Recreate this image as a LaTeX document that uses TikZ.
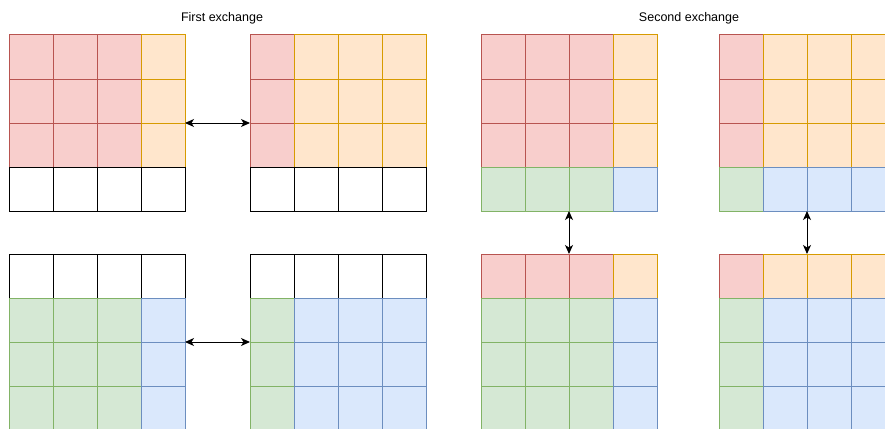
\documentclass[tikz,border=0pt]{standalone}
\usepackage{fontspec}
\setmainfont{Liberation Sans}
\usetikzlibrary{arrows.meta}

\definecolor{redfill}{HTML}{F8CECC}\definecolor{redline}{HTML}{B85450}
\definecolor{orgfill}{HTML}{FFE6CC}\definecolor{orgline}{HTML}{D79B00}
\definecolor{grnfill}{HTML}{D5E8D4}\definecolor{grnline}{HTML}{82B366}
\definecolor{blufill}{HTML}{DAE8FC}\definecolor{bluline}{HTML}{6C8EBF}

\tikzset{
  cell/.style={rectangle, minimum size=44pt, inner sep=0pt, outer sep=0pt, line width=1pt},
  cR/.style={cell, fill=redfill, draw=redline},
  cO/.style={cell, fill=orgfill, draw=orgline},
  cG/.style={cell, fill=grnfill, draw=grnline},
  cB/.style={cell, fill=blufill, draw=bluline},
  cW/.style={cell, fill=white, draw=black},
  swap/.style={line width=1pt, black, {Stealth[length=9pt,width=8pt,inset=2.5pt]}-{Stealth[length=9pt,width=8pt,inset=2.5pt]}},
  heading/.style={font=\fontsize{12.5}{15}\selectfont, inner sep=0pt}
}

% #1 name, #2 left x, #3 top y, #4 rows of cell codes
\newcommand{\cellgrid}[4]{%
  \foreach \rowlist [count=\r from 0] in {#4} {%
    \foreach \code [count=\k from 0] in \rowlist {%
      \node[c\code] (#1-\r-\k) at ({#2+44*\k+22},{#3+44*\r+22}) {};
    }%
  }%
}

\begin{document}
\begin{tikzpicture}[x=1pt,y=-1pt]
\useasboundingbox (0,0) rectangle (885,428);
\clip (0,0) rectangle (885,428);

\node[heading] (t1) at (222,18) {First exchange};
\node[heading] (t2) at (689,18) {Second exchange};

% first exchange
\cellgrid{g1}{9}{35}{{R,R,R,O},{R,R,R,O},{R,R,R,O},{W,W,W,W}}
\cellgrid{g2}{250}{35}{{R,O,O,O},{R,O,O,O},{R,O,O,O},{W,W,W,W}}
\cellgrid{g3}{9}{254}{{W,W,W,W},{G,G,G,B},{G,G,G,B},{G,G,G,B}}
\cellgrid{g4}{250}{254}{{W,W,W,W},{G,B,B,B},{G,B,B,B},{G,B,B,B}}

% second exchange
\cellgrid{g5}{481}{35}{{R,R,R,O},{R,R,R,O},{R,R,R,O},{G,G,G,B}}
\cellgrid{g6}{719}{35}{{R,O,O,O},{R,O,O,O},{R,O,O,O},{G,B,B,B}}
\cellgrid{g7}{481}{254}{{R,R,R,O},{G,G,G,B},{G,G,G,B},{G,G,G,B}}
\cellgrid{g8}{719}{254}{{R,O,O,O},{G,B,B,B},{G,B,B,B},{G,B,B,B}}

% exchange arrows
\draw[swap] (g1-2-3.north east) -- (g2-2-0.north west);
\draw[swap] (g3-2-3.north east) -- (g4-2-0.north west);
\draw[swap] (g5-3-1.south east) -- (g7-0-1.north east);
\draw[swap] (g6-3-1.south east) -- (g8-0-1.north east);
\end{tikzpicture}
\end{document}
